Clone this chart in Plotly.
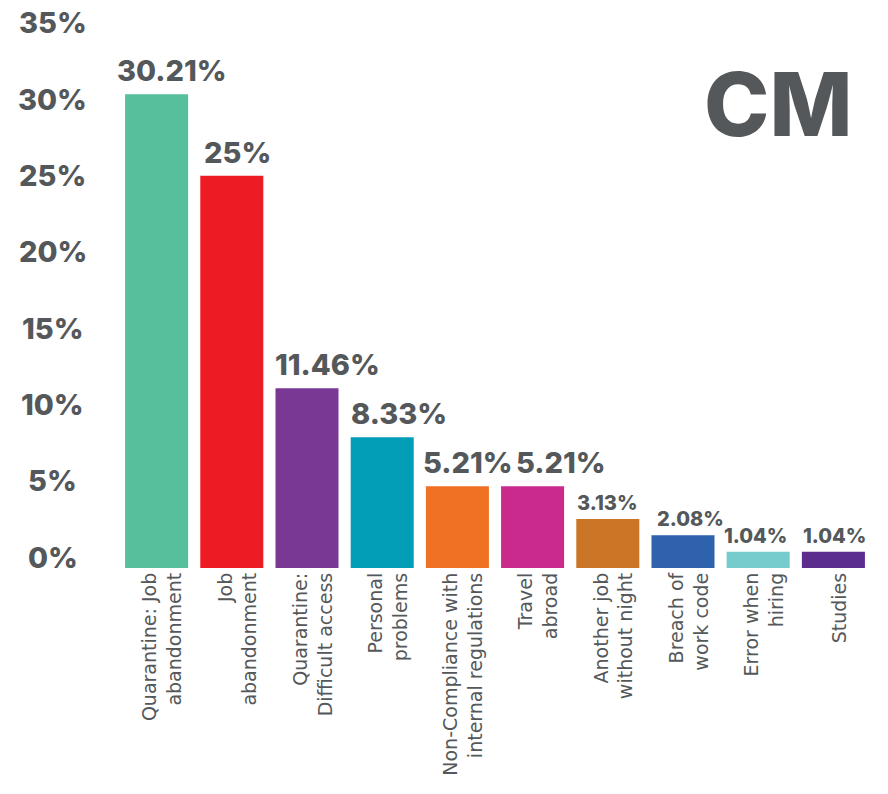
import plotly.graph_objects as go

# Reasons for leaving, share of cases (%)
categories = [
    "Quarantine: Job<br>abandonment",
    "Job<br>abandonment",
    "Quarantine:<br>Difficult access",
    "Personal<br>problems",
    "Non-Compliance with<br>internal regulations",
    "Travel<br>abroad",
    "Another job<br>without night",
    "Breach of<br>work code",
    "Error when<br>hiring",
    "Studies",
]
values = [30.21, 25, 11.46, 8.33, 5.21, 5.21, 3.13, 2.08, 1.04, 1.04]
bar_colors = [
    "#56bf9c", "#ec1c24", "#7a3895", "#029db6", "#f07024",
    "#cb2a8d", "#cb7527", "#2f62ad", "#76cccc", "#5b2d8c",
]
tick_values = [0, 5, 10, 15, 20, 25, 30, 35]
tick_labels = ["0%", "5%", "10%", "15%", "20%", "25%", "30%", "35%"]
panel_title = "CM"

# horizontal nudges (px) that keep neighbouring value labels apart
label_nudge = [15, 6, 20, 17, 11, 28, 0, 7, -3, 1]

GREY = "#54585a"
BOLD_FONT = "Inter"

fig = go.Figure(
    go.Bar(
        x=categories,
        y=values,
        marker=dict(color=bar_colors, line=dict(width=0)),
        hoverinfo="skip",
    )
)

annotations = []

# value labels above each bar; smaller type for the short bars
for cat, v, dx in zip(categories, values, label_nudge):
    big = v >= 5
    annotations.append(dict(
        x=cat, y=v, xref="x", yref="y",
        text=f"{v:g}%", showarrow=False,
        yanchor="bottom", yshift=4 if big else 2, xshift=dx,
        font=dict(family=BOLD_FONT, size=29 if big else 20, color=GREY, weight=800),
    ))

# centred percentage labels on a slightly compressed scale axis
for tv, tl in zip(tick_values, tick_labels):
    annotations.append(dict(
        x=-0.088, y=tv, xref="paper", yref="y2",
        text=tl, showarrow=False, xanchor="center", yanchor="middle",
        font=dict(family=BOLD_FONT, size=29, color=GREY, weight=800),
    ))

# panel heading
annotations.append(dict(
    x=0.876, y=0.845, xref="paper", yref="paper",
    text=panel_title, showarrow=False, xanchor="center", yanchor="middle",
    font=dict(family=BOLD_FONT, size=88, color=GREY, weight=800),
))

fig.update_layout(
    width=888, height=794,
    margin=dict(l=119, r=17, t=19, b=226),
    paper_bgcolor="white", plot_bgcolor="white",
    bargap=0.162,
    showlegend=False,
    annotations=annotations,
    xaxis=dict(
        type="category",
        range=[-0.5, len(categories) - 0.5],
        tickangle=-90,
        ticklabelshift=6,
        tickfont=dict(family="DejaVu Sans", size=19, color=GREY),
        showgrid=False, zeroline=False, showline=False, ticks="",
    ),
    yaxis=dict(
        range=[0, 35],
        showticklabels=False,
        showgrid=False, zeroline=False, showline=False, ticks="",
    ),
    yaxis2=dict(
        overlaying="y",
        range=[-0.72, 35.26],
        showticklabels=False,
        showgrid=False, zeroline=False, showline=False, ticks="",
    ),
)

fig.write_html("out.html")
